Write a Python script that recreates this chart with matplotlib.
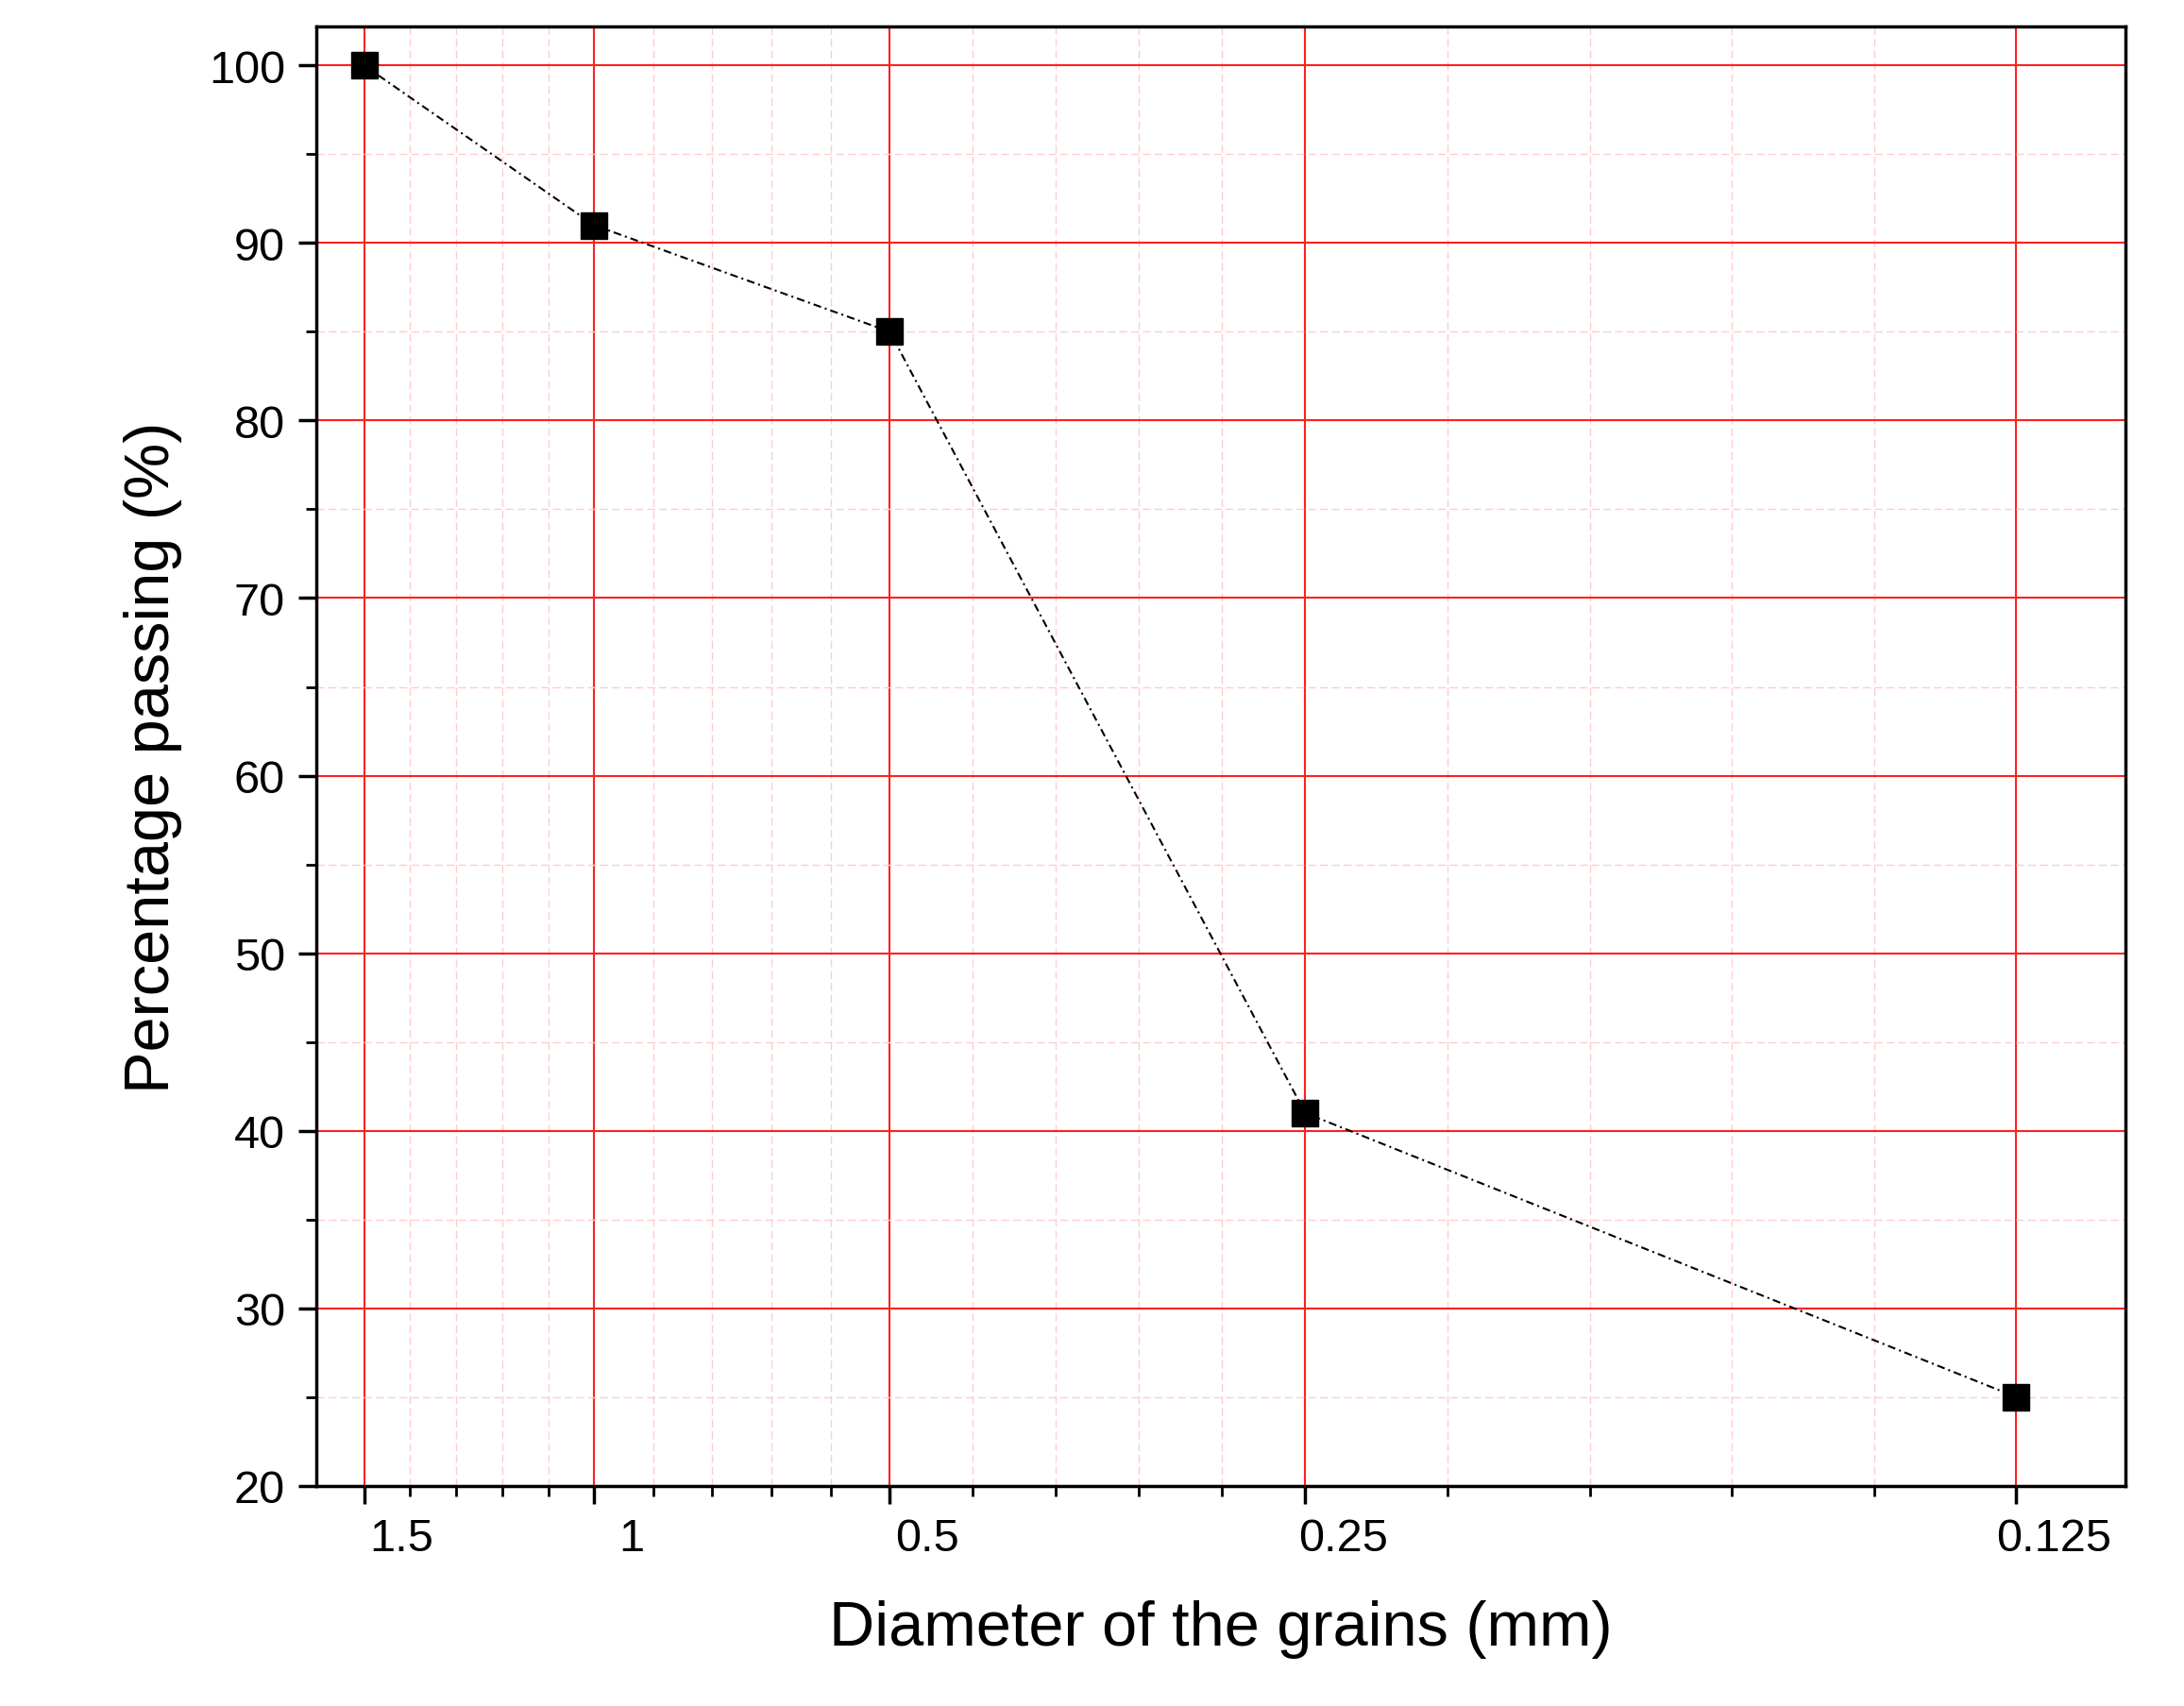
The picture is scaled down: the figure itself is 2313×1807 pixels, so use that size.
import numpy as np
import matplotlib
matplotlib.use('Agg')
import matplotlib.pyplot as plt
import matplotlib.transforms as mtransforms

plt.rcParams['font.family'] = ['Liberation Sans', 'DejaVu Sans']

# data
diameter = [1.5, 1.0, 0.5, 0.25, 0.125]
passing = [100, 91, 85, 41, 25]
tick_labels = ["1.5", "1", "0.5", "0.25", "0.125"]

# sieve axis spacing as drawn in the original (non-uniform)
scale_vals = np.array([1.8, 1.5, 1.0, 0.5, 0.25, 0.125, 0.05])
scale_pos = np.array([-100, 0, 165, 377, 675, 1185, 1400], dtype=float)


def fwd(x):
    # monotonic increasing in x
    return -np.interp(-np.asarray(x, dtype=float), -scale_vals, scale_pos)


def inv(u):
    return -np.interp(-np.asarray(u, dtype=float), scale_pos, -scale_vals)


fig = plt.figure(figsize=(23.13, 18.08), dpi=100)
ax = fig.add_axes([0.145, 0.129, 0.828, 0.855])
ax.set_xscale('function', functions=(fwd, inv))

ax.plot(diameter, passing, color='black', linestyle=(0, (4, 2, 1, 2)), linewidth=1.5,
        marker='s', markersize=20, markerfacecolor='black', zorder=5)

ax.set_xlim(inv(34), inv(-1263))
ax.set_ylim(20, 102.2)
ax.set_xticks(diameter)
ax.set_xticklabels(tick_labels)
minor_x = [1.4, 1.3, 1.2, 1.1, 0.9, 0.8, 0.7, 0.6, 0.45, 0.4, 0.35, 0.3,
           0.225, 0.2, 0.175, 0.15]
ax.set_xticks(minor_x, minor=True)
ax.set_yticks(np.arange(20, 101, 10))
ax.set_yticks(np.arange(25, 101, 10), minor=True)

ax.grid(True, which='major', color='#ff2020', linewidth=1.5)
ax.grid(True, which='minor', color='#ffcccc', linewidth=1.0, linestyle=(0, (6, 3)))
ax.set_axisbelow(True)

ax.tick_params(which='major', direction='out', length=14, width=2.5, labelsize=35, pad=10)
ax.tick_params(which='minor', direction='out', length=8, width=2)
offset = mtransforms.ScaledTranslation(0.4, 0, fig.dpi_scale_trans)
for lab in ax.get_xticklabels():
    lab.set_transform(lab.get_transform() + offset)

for s in ax.spines.values():
    s.set_linewidth(2.5)

ax.set_xlabel("Diameter of the grains (mm)", fontsize=48, labelpad=30)
ax.set_ylabel("Percentage passing (%)", fontsize=48, labelpad=20)

fig.savefig("out.png", dpi=100, facecolor='white')
